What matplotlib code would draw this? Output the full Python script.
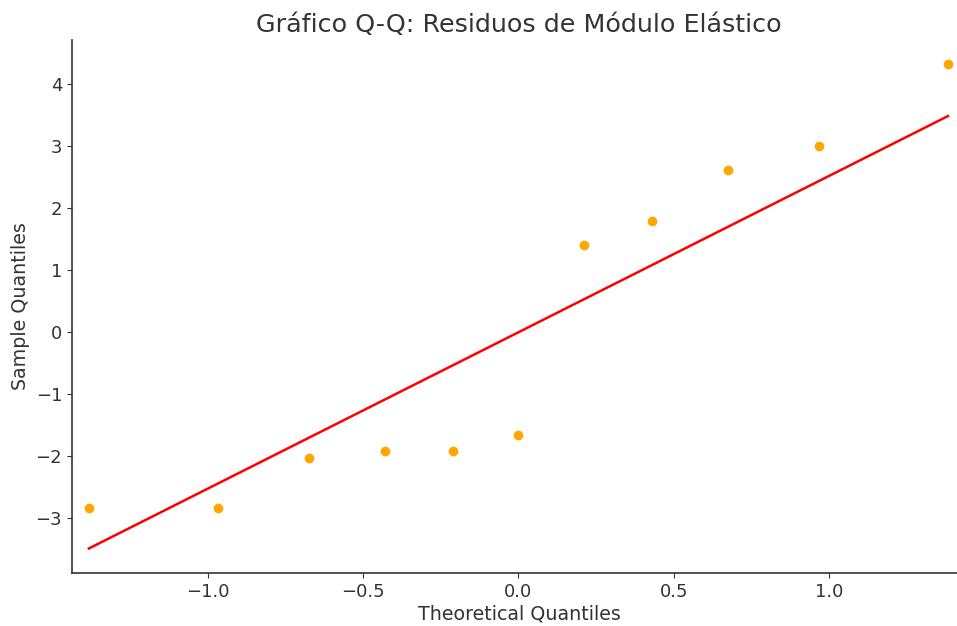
import matplotlib
matplotlib.use("Agg")
import matplotlib.pyplot as plt

# theoretical normal quantiles and ordered residuals
theoretical = [-1.383, -0.967, -0.674, -0.431, -0.210, 0.0,
               0.210, 0.431, 0.674, 0.967, 1.383]
sample = [-2.83, -2.83, -2.02, -1.91, -1.91, -1.66,
          1.40, 1.79, 2.61, 3.01, 4.32]

# reference line (slope, intercept)
line_slope = 2.52
line_intercept = 0.0

text_color = "#333333"
plt.rcParams["text.color"] = text_color
plt.rcParams["axes.labelcolor"] = text_color
plt.rcParams["xtick.color"] = text_color
plt.rcParams["ytick.color"] = text_color

fig = plt.figure(figsize=(9.57, 6.26), dpi=100)
ax = fig.add_axes([0.0752, 0.0847, 0.9248, 0.8513])

ax.plot(theoretical, sample, "o", color="orange", markersize=7, markeredgewidth=0)
line_x = [theoretical[0], theoretical[-1]]
line_y = [line_slope * x + line_intercept for x in line_x]
ax.plot(line_x, line_y, color="red", linewidth=1.8)

ax.set_xlim(-1.4375, 1.412)
ax.set_ylim(-3.88, 4.71)

ax.spines["top"].set_visible(False)
ax.spines["right"].set_visible(False)
for s in ["left", "bottom"]:
    ax.spines[s].set_color(text_color)
    ax.spines[s].set_linewidth(1.2)

ax.tick_params(labelsize=13)
ax.set_title("Gráfico Q-Q: Residuos de Módulo Elástico", fontsize=18.3, pad=6, x=0.505)
ax.set_xlabel("Theoretical Quantiles", fontsize=13.7, labelpad=3, x=0.505)
ax.set_ylabel("Sample Quantiles", fontsize=13.7)

fig.savefig("out.png", dpi=100)
